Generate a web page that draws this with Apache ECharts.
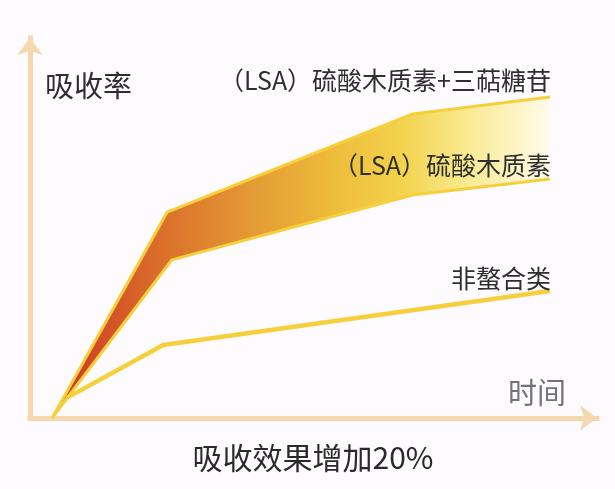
<!DOCTYPE html>
<html>
<head>
<meta charset="utf-8">
<script src="https://cdn.jsdelivr.net/npm/echarts@6/dist/echarts.min.js"></script>
<style>
  html, body { margin: 0; padding: 0; background: #fdfbfd; }
  #chart { width: 615px; height: 489px; }
</style>
</head>
<body>
<div id="chart"></div>
<script>
(function () {
  "use strict";

  // Values: x = time (0..100), y = absorption (0..100).
  var upperX = [3.9, 24.2, 67.5, 91.7];      // (LSA) 硫酸木质素+三萜糖苷
  var upperY = [0, 54.2, 80.0, 84.5];
  var lowerX = [3.9, 25.0, 67.5, 91.7];      // (LSA) 硫酸木质素
  var lowerY = [0, 41.6, 58.7, 62.9];
  var plainX = [6.5, 23.5, 91.7];            // 非螯合类
  var plainY = [5.3, 19.2, 33.4];

  var seriesNames = ["（LSA）硫酸木质素+三萜糖苷", "（LSA）硫酸木质素", "非螯合类"];
  var axisNames = ["时间", "吸收率"];
  var caption = "吸收效果增加20%";

  var FONT = "'Noto Sans CJK SC', 'Noto Sans', sans-serif";
  var AXIS_COLOR = "#f5d8ae";
  var LINE_COLOR = "#f6d03c";

  function pairs(xs, ys) {
    return xs.map(function (x, i) { return [x, ys[i]]; });
  }

  var upper = pairs(upperX, upperY);
  var lower = pairs(lowerX, lowerY);
  var plain = pairs(plainX, plainY);

  var chart = echarts.init(document.getElementById("chart"), null, { renderer: "canvas" });

  function axisLine() {
    return {
      show: true,
      symbol: ["none", "arrow"],
      symbolSize: [19, 17],
      lineStyle: { color: AXIS_COLOR, width: 5, cap: "square" }
    };
  }

  function label(text, x, y, size, color, align) {
    return {
      type: "text", x: x, y: y, z: 100, silent: true,
      style: {
        text: text, fill: color, font: "400 " + size + "px " + FONT,
        textAlign: align || "left", textVerticalAlign: "middle"
      }
    };
  }

  var option = {
    backgroundColor: "#fdfbfd",
    animation: false,
    grid: { left: 30, right: 18, top: 38, bottom: 71 },
    xAxis: {
      type: "value", min: 0, max: 100,
      axisLine: axisLine(), axisTick: { show: false },
      axisLabel: { show: false }, splitLine: { show: false }
    },
    yAxis: {
      type: "value", min: 0, max: 100,
      axisLine: axisLine(), axisTick: { show: false },
      axisLabel: { show: false }, splitLine: { show: false }
    },
    series: [
      {
        // gradient band between the two LSA curves
        type: "custom",
        data: [0],
        z: 1,
        renderItem: function (params, api) {
          var pts = upper.map(function (p) { return api.coord(p); });
          lower.slice().reverse().forEach(function (p) { pts.push(api.coord(p)); });
          return {
            type: "polygon",
            shape: { points: pts },
            style: {
              fill: {
                type: "linear", x: 0, y: 0, x2: 1, y2: 0,
                colorStops: [
                  { offset: 0.0, color: "#cc3325" },
                  { offset: 0.2, color: "#d96a2a" },
                  { offset: 0.4, color: "#e39a35" },
                  { offset: 0.56, color: "#edbb3a" },
                  { offset: 0.7, color: "#f3d24c" },
                  { offset: 0.82, color: "#f8e88a" },
                  { offset: 0.94, color: "#fdf5c8" },
                  { offset: 1.0, color: "#fffbee" }
                ]
              }
            }
          };
        }
      },
      {
        name: seriesNames[0], type: "line", data: upper, z: 3,
        symbol: "none", lineStyle: { color: LINE_COLOR, width: 3 }
      },
      {
        name: seriesNames[1], type: "line", data: lower, z: 3,
        symbol: "none", lineStyle: { color: LINE_COLOR, width: 3 }
      },
      {
        name: seriesNames[2], type: "line", data: plain, z: 3,
        symbol: "none", lineStyle: { color: LINE_COLOR, width: 4.5 }
      }
    ],
    graphic: [
      label(axisNames[1], 45, 86, 29, "#2e2e2e"),
      label(axisNames[0], 508, 393, 29, "#72727a"),
      label(seriesNames[0], 551, 80, 25, "#2e2e2e", "right"),
      label(seriesNames[1], 551, 165, 25, "#2e2e2e", "right"),
      label(seriesNames[2], 551, 278, 25, "#2e2e2e", "right"),
      label(caption, 313, 458, 30, "#2a2a2a", "center")
    ]
  };

  chart.setOption(option);
})();
</script>
</body>
</html>
